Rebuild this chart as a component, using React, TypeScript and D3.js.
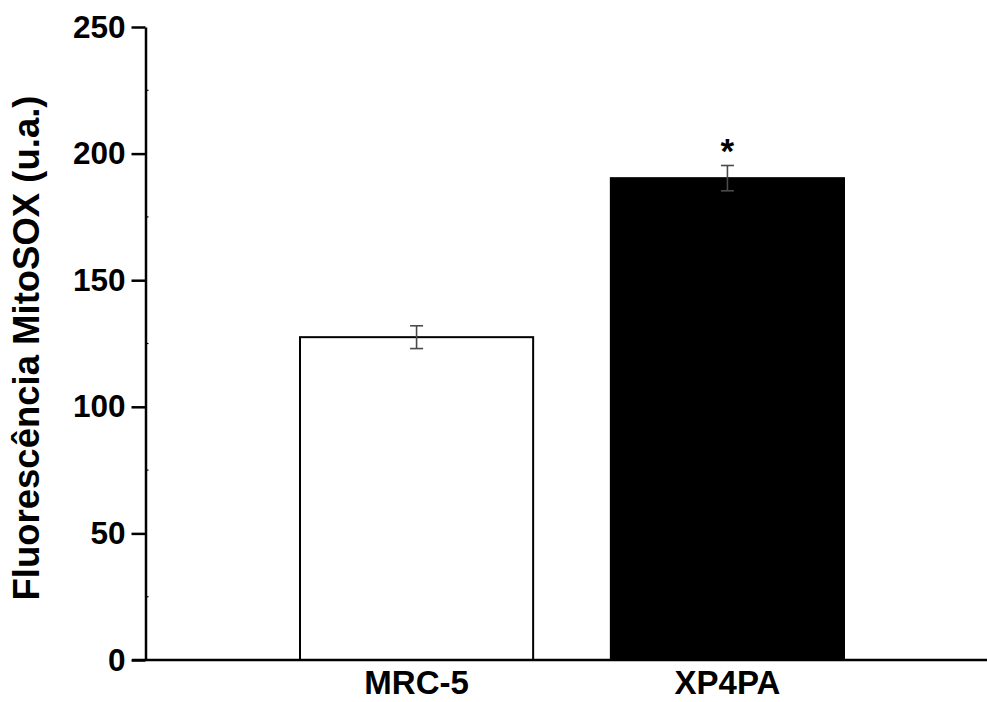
import React, { useEffect, useRef } from "react";
import * as d3 from "d3";

const categories = ["MRC-5", "XP4PA"];
const values = [127.5, 190.3];
const errors = [4.5, 5.0];
const barFills = ["#ffffff", "#000000"];
const significance = ["", "*"];
const yTicks = [0, 50, 100, 150, 200, 250];
const yMinorTicks = [25, 75, 125, 175, 225];
const yLabel = "Fluorescência MitoSOX (u.a.)";

const App: React.FC = () => {
  const svgRef = useRef<SVGSVGElement | null>(null);

  useEffect(() => {
    if (!svgRef.current) return;
    const width = 987;
    const height = 702;
    const font = "'Liberation Sans', Arial, Helvetica, sans-serif";

    const svg = d3.select(svgRef.current);
    svg.selectAll("*").remove();
    svg.attr("width", width).attr("height", height);

    const y = d3.scaleLinear().domain([0, 250]).range([660, 27]);
    const x = d3
      .scaleBand<string>()
      .domain(categories)
      .range([300, 844])
      .paddingInner(0.25)
      .paddingOuter(0);

    const axisX = 145.5;

    // bars
    svg
      .append("g")
      .selectAll("rect")
      .data(categories)
      .join("rect")
      .attr("x", (d) => x(d)!)
      .attr("y", (_, i) => y(values[i]))
      .attr("width", x.bandwidth())
      .attr("height", (_, i) => y(0) - y(values[i]))
      .attr("fill", (_, i) => barFills[i])
      .attr("stroke", "#000")
      .attr("stroke-width", 2);

    // error bars
    const eg = svg.append("g").attr("stroke", "#4a4a4a").attr("stroke-width", 1.6);
    categories.forEach((c, i) => {
      const cx = x(c)! + x.bandwidth() / 2;
      const top = y(values[i] + errors[i]);
      const bot = y(values[i] - errors[i]);
      eg.append("line").attr("x1", cx).attr("x2", cx).attr("y1", top).attr("y2", bot);
      eg.append("line").attr("x1", cx - 6.5).attr("x2", cx + 6.5).attr("y1", top).attr("y2", top);
      eg.append("line").attr("x1", cx - 6.5).attr("x2", cx + 6.5).attr("y1", bot).attr("y2", bot);
      if (significance[i]) {
        svg
          .append("text")
          .attr("x", cx)
          .attr("y", top - 3)
          .attr("text-anchor", "middle")
          .attr("font-family", font)
          .attr("font-weight", "bold")
          .attr("font-size", 35)
          .attr("fill", "#000")
          .text(significance[i]);
      }
    });

    // y axis (major ticks outward)
    svg
      .append("g")
      .attr("transform", `translate(${axisX},0)`)
      .call(
        d3
          .axisLeft(y)
          .tickValues(yTicks)
          .tickSize(14)
          .tickPadding(6)
          .tickSizeOuter(0)
          .tickFormat((d) => String(d)),
      )
      .call((g) => g.select(".domain").attr("stroke", "#000").attr("stroke-width", 2.5))
      .call((g) => g.selectAll(".tick line").attr("stroke", "#000").attr("stroke-width", 2.5))
      .call((g) =>
        g
          .selectAll(".tick text")
          .attr("fill", "#000")
          .attr("font-family", font)
          .attr("font-weight", "bold")
          .attr("font-size", 31.5),
      );

    // minor ticks (inward)
    svg
      .append("g")
      .selectAll("line")
      .data(yMinorTicks)
      .join("line")
      .attr("x1", axisX)
      .attr("x2", axisX + 3)
      .attr("y1", (d) => y(d))
      .attr("y2", (d) => y(d))
      .attr("stroke", "#000")
      .attr("stroke-width", 1.2);

    // x axis line
    svg
      .append("line")
      .attr("x1", 132)
      .attr("x2", 987)
      .attr("y1", y(0))
      .attr("y2", y(0))
      .attr("stroke", "#000")
      .attr("stroke-width", 2.5);

    // category labels
    svg
      .append("g")
      .selectAll("text")
      .data(categories)
      .join("text")
      .attr("x", (d) => x(d)! + x.bandwidth() / 2)
      .attr("y", 694)
      .attr("text-anchor", "middle")
      .attr("font-family", font)
      .attr("font-weight", "bold")
      .attr("font-size", 33)
      .attr("fill", "#000")
      .text((d) => d);

    // y label
    svg
      .append("text")
      .attr("transform", `translate(39,348) rotate(-90)`)
      .attr("text-anchor", "middle")
      .attr("font-family", font)
      .attr("font-weight", "bold")
      .attr("font-size", 36.5)
      .attr("fill", "#000")
      .text(yLabel);
  }, []);

  return (
    <svg
      ref={svgRef}
      style={{ position: "absolute", left: 0, top: 0, display: "block", background: "#fff" }}
    />
  );
};

export default App;
